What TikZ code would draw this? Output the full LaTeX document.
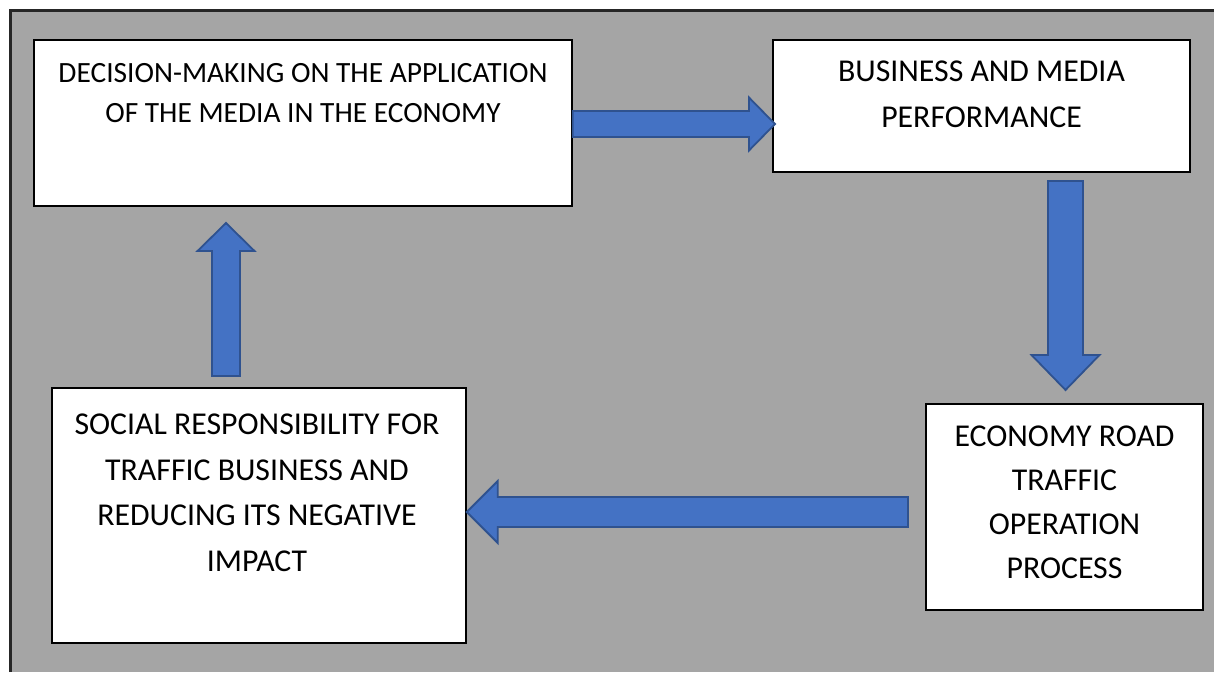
\documentclass[tikz,border=0pt]{standalone}
\usepackage{fontspec}
\setmainfont{Carlito}
\usetikzlibrary{calc}
\definecolor{bggray}{HTML}{A5A5A5}
\definecolor{arrfill}{HTML}{4472C4}
\definecolor{arrline}{HTML}{2F528F}
\definecolor{framecol}{HTML}{262626}
\tikzset{
  box/.style={draw=black, line width=1.5pt, fill=white, inner sep=0pt, rectangle},
  label/.style={anchor=north, inner sep=0pt, align=center, text=black},
  blockarrow/.style={fill=arrfill, draw=arrline, line width=1.8pt, line join=miter},
}
\newcommand\blockarr[5]{%
  \coordinate (ba-h) at ($(#2)!#5!(#1)$);
  \draw[blockarrow] ($(#1)!#3!90:(#2)$) -- ($(ba-h)!#3!90:(#2)$) -- ($(ba-h)!#4!90:(#2)$)
    -- (#2) -- ($(ba-h)!#4!-90:(#2)$) -- ($(ba-h)!#3!-90:(#2)$) -- ($(#1)!#3!-90:(#2)$) -- cycle;}
\begin{document}
\begin{tikzpicture}[x=1pt,y=-1pt]
\useasboundingbox (0,0) rectangle (1214,672);
\fill[white] (0,0) rectangle (1214,672);
\fill[bggray] (10.5,10.5) rectangle (1214,672);
\draw[framecol, line width=2.5pt] (10.5,672) -- (10.5,10.5) -- (1214,10.5);

% boxes
\node[box, minimum width=538pt, minimum height=166pt] (b1) at (303,123) {};
\node[box, minimum width=417pt, minimum height=132pt] (b2) at (981.5,106) {};
\node[box, minimum width=277pt, minimum height=206pt] (b3) at (1064.5,507) {};
\node[box, minimum width=414pt, minimum height=255pt] (b4) at (259,515.5) {};

% texts
\node[label, font=\fontsize{29.4}{40}\selectfont] (t1) at (b1.center |- 0,63)
  {DECISION-MAKING ON THE APPLICATION\\OF THE MEDIA IN THE ECONOMY};
\node[label, font=\fontsize{31.8}{46}\selectfont] (t2) at (b2.center |- 0,61)
  {BUSINESS AND MEDIA\\PERFORMANCE};
\node[label, font=\fontsize{31.8}{44}\selectfont] (t3) at (b3.center |- 0,426)
  {ECONOMY ROAD\\TRAFFIC\\OPERATION\\PROCESS};
\node[label, font=\fontsize{31.8}{45.5}\selectfont] (t4) at (257,414)
  {SOCIAL RESPONSIBILITY FOR\\TRAFFIC BUSINESS AND\\REDUCING ITS NEGATIVE\\IMPACT};

% connector end points
\coordinate (r1) at (b1.east |- 0,124);
\coordinate (r2) at (775,124);
\coordinate (d1) at (1065.5,181);
\coordinate (d2) at (1065.5,390);
\coordinate (l1) at (908,512);
\coordinate (l2) at (b4.east |- 0,512);
\coordinate (u1) at (226,376);
\coordinate (u2) at (226,223);

\blockarr{r1}{r2}{13pt}{26.5pt}{26pt}
\blockarr{d1}{d2}{17.5pt}{34pt}{35pt}
\blockarr{l1}{l2}{15pt}{31pt}{31pt}
\blockarr{u1}{u2}{14pt}{28.5pt}{28pt}
\end{tikzpicture}
\end{document}
